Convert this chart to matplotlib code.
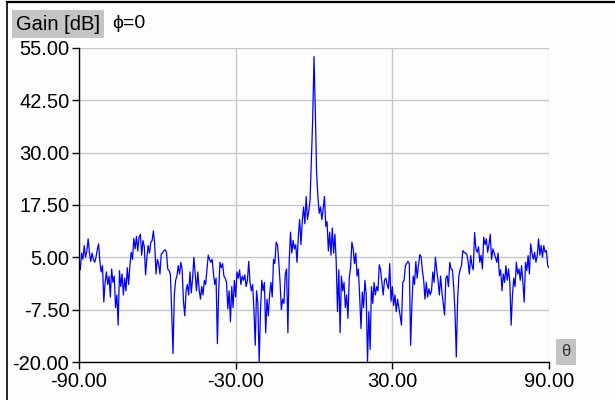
import numpy as np
import matplotlib.pyplot as plt
from matplotlib.lines import Line2D

# Gain samples (dB), 0.5 deg apart in pieces
gain_a_start = -90.0
gain_a = [4.0, 2.0, 6.0, 4.5, 7.8, 5.0, 6.5, 9.4, 6.0, 4.0,
          6.0, 4.5, 3.8, 5.0, 6.8, 8.2, 4.0, 1.5, 3.0, -5.7,
          -1.0, 1.5, -1.5, 0.5, -4.5, 2.2, -1.0, 0.5, -7.0, -4.0,
          -11.2, 1.8, -2.0, 1.0, -4.0, 0.0, -3.0, 2.5, -1.5, 3.0,
          6.2, 4.5, 9.5, 7.0, 10.0, 6.5, 9.8, 10.5, 5.5, 9.0,
          7.5, 0.8, 5.0, 7.8, 6.0, 8.6, 9.0, 11.3, 8.0, 1.0,
          4.5, 3.5, 1.0, 5.8, 6.0, 6.6, 6.8, 6.2, 2.2, 1.8,
          1.0, -8.0, -18.0, -4.0, -0.5, 0.5, 3.0, 1.0, 3.8, 2.0,
          -5.5, -9.0, -3.0, -1.5, -4.0, 1.5, -3.5, 0.0, 5.0, 1.0,
          -3.0, 1.5, -2.5, -5.0, -2.0, -4.0, -0.5, -1.5, 2.0, 5.5]

gain_b_start = -40.0
gain_b = [4.5, 3.8, 4.5, 1.0, -1.5, 0.0, -15.6, -3.0, 3.8, 2.5,
          3.5, 0.5, 0.0, -1.0, -7.3, -3.0, -10.4, -2.0, -7.0, -0.5,
          -4.5, 1.5, 0.0, 2.0, -1.5, 0.5, -0.5, 0.8, -2.0, -0.5,
          4.0, -1.0, -3.0, -1.5, -7.5, -16.0, -3.0, -6.0, -20.0, -8.0,
          -0.5, -3.0, -1.0, -13.0, -5.0, -9.0, -4.0, -1.0, -4.5, 4.5,
          3.5, 8.6, 8.0, 4.0, -1.0, -7.5, -5.0, -6.0, 1.0, 2.2,
          -13.0]

gain_c_start = -9.5
gain_c = [4.0, 11.0, 6.0, 9.0, 7.0, 8.0, 3.8, 10.0, 14.0, 8.0,
          13.5, 17.0, 13.0, 19.5, 14.0, 16.0, 18.7, 28.0, 38.0, 52.9,
          40.0, 25.0, 19.5, 15.5, 17.0, 14.0, 16.5, 19.5, 12.4, 13.5,
          6.5, 11.0, 5.5, 12.0, 6.0, 10.5, 4.0]

gain_d_start = 9.0
gain_d = [-8.0, 2.0, -13.0, 0.5, -3.0, -1.0, -7.0, -4.0, -9.6, 0.0,
          2.5, 8.6, 7.0, 3.5, 6.0, 0.5, 2.2, -4.5, -12.0, -3.3,
          -7.0, -0.5, -4.0, -20.0, -8.0, -17.0, -2.0, -6.0, -1.0, -4.0,
          -2.0, -3.0, 3.2, 2.0, -1.0, -4.0, -0.5, 0.0, -1.5, -2.5,
          3.5, -5.5, -2.0, -6.5, -4.0, -8.0, -5.0, -7.0, -9.0, -11.2,
          -1.0, -0.5, 3.0, 3.5, 4.0, 3.5, -16.0, -6.0, 0.5, -1.5,
          4.0, 0.0, 3.0, 5.6, 5.2, 2.0, -0.5, -5.0, -1.0, -4.5,
          -2.5, -4.0, -3.0, 1.5, -1.0, 5.0, 2.0, -0.5, -4.0, 0.5,
          -3.5, -6.0, -8.8, 0.0, 0.6, -2.0, 3.8, 2.2]

gain_e_start = 53.0
gain_e = [2.0, -2.0, -8.0, -18.8, -5.0, 0.6, 2.2, 3.0, 6.6, 6.2,
          6.0, 5.8, 4.0, 1.0, 5.4, 3.0, 2.0, 10.9, 7.0, 6.2,
          7.5, 3.8, 5.5, 2.2, 9.8, 8.0, 9.4, 6.2, 8.0, 10.5,
          4.5, 7.0, 6.0, 5.0, 3.8, 6.0, 0.6, 2.0, -3.0, 1.0,
          -1.0, 3.0, -0.5, 2.2, -1.0, -11.2, -4.0, 0.0, -2.0, 3.8,
          1.0, 2.2, -0.5, 3.0, -1.0, -5.7, 3.8, 1.8, 5.4, 1.0,
          8.2, 6.0, 4.5, 6.2, 3.8, 5.4, 9.4, 5.5, 7.8, 5.0,
          7.8, 6.2, 6.6, 3.0, 2.5]

step = 0.5
segments = [(gain_a_start, gain_a), (gain_b_start, gain_b), (gain_c_start, gain_c),
            (gain_d_start, gain_d), (gain_e_start, gain_e)]
theta = np.concatenate([s + step * np.arange(len(g)) for s, g in segments])
gain = np.concatenate([np.array(g) for s, g in segments])

y_ticks = [-20.0, -7.5, 5.0, 17.5, 30.0, 42.5, 55.0]
x_ticks = [-90, -30, 30, 90]

plt.rcParams['font.family'] = ['Liberation Sans', 'DejaVu Sans']

fig = plt.figure(figsize=(6.15, 4.0), dpi=100)
fig.patch.set_facecolor('#fdfdfd')
W, H = 615, 400
ax = fig.add_axes([79 / W, 38 / H, 470 / W, 314.2 / H])
ax.set_facecolor('#fdfdfd')

ax.plot(theta, gain, color='#0000ff', lw=0.9)

ax.set_xlim(-90, 90)
ax.set_ylim(-20, 55)
ax.set_xticks(x_ticks)
ax.set_xticklabels([f"{v:.2f}" for v in x_ticks])
ax.set_yticks(y_ticks)
ax.set_yticklabels([f"{v:.2f}" for v in y_ticks])
ax.grid(True, color='#c8c8c8', lw=1.0)
ax.set_axisbelow(True)

for side in ['top', 'right']:
    ax.spines[side].set_visible(False)
for side in ['left', 'bottom']:
    ax.spines[side].set_color('black')
    ax.spines[side].set_linewidth(1.0)

ax.tick_params(axis='both', direction='out', length=5, width=1,
               labelsize=14.5, color='black', pad=2)

# labels in grey boxes
fig.text(16 / W, 1 - 24 / H, "Gain [dB]", fontsize=14.5, va='center', ha='left',
         bbox=dict(boxstyle='square,pad=0.2', fc='#c4c4c4', ec='none'))
fig.text(112 / W, 1 - 24 / H, "\u03d5=0", fontsize=14, va='center', ha='left')
fig.text(566 / W, 1 - 352 / H, "\u03b8", fontsize=12, va='center', ha='center',
         color='#333333',
         bbox=dict(boxstyle='square,pad=0.35', fc='#c4c4c4', ec='none'))

# window frame
fig.add_artist(Line2D([7 / W, 7 / W], [0, 1 - 1.5 / H], transform=fig.transFigure,
                      color='black', lw=1.2))
fig.add_artist(Line2D([7 / W, 614 / W], [1 - 1.5 / H, 1 - 1.5 / H],
                      transform=fig.transFigure, color='black', lw=1.6))

fig.savefig("out.png", dpi=100, facecolor=fig.get_facecolor())
